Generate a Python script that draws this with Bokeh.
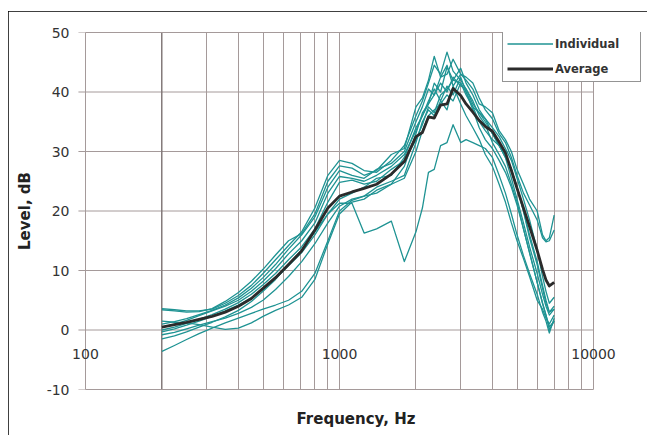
from bokeh.plotting import figure
from bokeh.models import (Range1d, FixedTicker, Span, Legend, LegendItem,
                          LogAxis, ColumnDataSource)
from bokeh.embed import file_html
from bokeh.resources import INLINE

# ---------------- data ----------------
freq_hz = [200, 224, 250, 280, 315, 355, 400, 450, 500, 560, 630, 710, 800, 900,
           1000, 1120, 1250, 1400, 1600, 1800, 2000, 2120, 2240, 2360, 2500, 2650,
           2800, 3000, 3150, 3350, 3550, 3750, 4000, 4250, 4500, 4750, 5000, 5300,
           5600, 6000, 6300, 6500, 6700, 7000]

ind_01 = [3.6, 3.4, 3.2, 3.2, 3.5, 4.5, 5.8, 7.5, 9.5, 11.8, 14.2, 16.5, 20.5, 26.0,
          28.5, 28.0, 26.8, 26.5, 28.5, 31.0, 36.0, 38.5, 41.5, 44.5, 43.0, 46.7,
          43.5, 42.0, 40.5, 38.0, 36.5, 35.5, 33.0, 31.0, 29.0, 25.5, 22.0, 18.0,
          14.0, 9.5, 6.0, 4.0, 2.5, 3.5]
ind_02 = [3.4, 3.2, 3.0, 3.1, 3.6, 4.8, 6.3, 8.2, 10.2, 12.6, 15.0, 16.2, 19.5, 25.0,
          27.6, 27.2, 26.0, 26.8, 29.5, 30.5, 37.5, 39.0, 42.0, 46.0, 42.5, 44.5,
          41.0, 43.0, 42.0, 40.5, 38.0, 37.5, 36.5, 33.5, 32.0, 30.0, 27.0, 24.5,
          22.0, 20.0, 16.0, 15.0, 15.5, 19.3]
ind_03 = [1.0, 1.4, 1.9, 2.6, 3.3, 4.2, 5.4, 7.0, 8.8, 11.0, 13.6, 16.0, 19.0, 24.0,
          26.8, 26.0, 25.5, 27.0, 28.0, 30.0, 35.0, 37.5, 40.5, 39.5, 42.5, 43.0,
          45.5, 43.0, 42.5, 41.5, 39.0, 37.0, 35.5, 33.0, 31.5, 29.0, 26.0, 23.0,
          21.0, 18.5, 15.5, 14.8, 15.0, 16.8]
ind_04 = [0.5, 1.0, 1.6, 2.4, 3.2, 4.0, 5.0, 6.5, 8.2, 10.3, 12.8, 15.0, 18.0, 23.0,
          25.8, 25.5, 25.0, 26.0, 27.5, 29.5, 33.5, 36.0, 38.0, 41.5, 40.0, 44.2,
          42.0, 44.0, 41.5, 39.5, 37.0, 35.5, 34.0, 32.5, 30.5, 28.5, 25.5, 22.0,
          18.5, 13.5, 9.0, 6.5, 4.5, 5.5]
ind_05 = [0.0, 0.5, 1.1, 1.8, 2.6, 3.5, 4.6, 6.0, 7.6, 9.5, 11.8, 14.0, 17.0, 21.5,
          24.8, 25.2, 24.5, 25.0, 27.0, 28.5, 32.0, 34.5, 37.5, 36.5, 39.5, 40.5,
          42.0, 41.5, 40.0, 37.5, 35.0, 33.5, 32.0, 31.0, 29.5, 27.0, 24.0, 20.0,
          16.0, 11.5, 7.5, 5.0, 3.0, 3.5]
ind_06 = [-0.3, 0.2, 0.8, 1.5, 2.3, 3.2, 4.2, 5.4, 6.8, 8.6, 10.8, 13.0, 16.0, 19.5,
          22.0, 23.0, 24.0, 25.5, 26.0, 29.0, 34.0, 36.0, 38.5, 40.5, 38.5, 41.0,
          39.5, 42.5, 40.0, 37.0, 34.0, 32.0, 30.5, 28.5, 26.5, 24.0, 21.0, 17.0,
          13.0, 8.0, 4.5, 2.5, 0.5, 1.5]
ind_07 = [-0.8, -0.4, 0.2, 0.8, 1.4, 2.0, 2.8, 3.8, 5.0, 6.8, 9.0, 11.5, 14.5, 18.0,
          20.8, 22.0, 22.5, 24.0, 25.0, 26.0, 31.5, 35.0, 37.0, 36.0, 38.5, 37.0,
          41.0, 38.0, 36.0, 34.0, 32.0, 29.5, 27.5, 24.5, 21.5, 18.0, 15.0, 12.0,
          9.0, 5.0, 3.5, 2.0, 1.0, 2.5]
ind_08 = [-1.5, -1.0, -0.3, 0.5, 1.3, 2.2, 3.3, 4.8, 6.5, 8.5, 11.0, 13.5, 16.5, 19.5,
          21.3, 21.3, 16.3, 17.0, 18.3, 11.5, 16.5, 20.5, 26.5, 27.0, 31.0, 31.5,
          34.5, 31.5, 32.0, 31.5, 31.0, 30.5, 29.0, 26.0, 23.0, 19.5, 16.0, 12.5,
          9.5, 6.0, 3.0, 1.5, -0.5, 2.0]
ind_09 = [1.5, 1.3, 1.2, 0.9, 0.5, 0.1, 0.3, 1.2, 2.3, 3.3, 4.2, 5.5, 8.5, 14.5,
          19.5, 21.5, 22.0, 23.5, 24.5, 25.5, 30.0, 33.5, 36.0, 37.0, 38.0, 39.5,
          38.5, 41.5, 39.5, 37.5, 36.5, 35.0, 33.0, 31.0, 29.0, 27.0, 24.0, 20.0,
          15.5, 11.0, 7.0, 4.5, 3.0, 4.0]
ind_10 = [-3.6, -2.6, -1.6, -0.6, 0.3, 1.2, 2.0, 2.8, 3.5, 4.2, 5.0, 6.5, 9.5, 15.0,
          20.0, 21.8, 22.5, 23.0, 24.5, 27.5, 33.0, 36.5, 38.0, 39.5, 41.5, 40.0,
          42.5, 41.0, 40.5, 38.5, 36.0, 34.5, 31.5, 29.5, 27.5, 24.5, 21.5, 17.0,
          13.0, 8.0, 4.5, 2.5, 0.0, 1.5]

average = [0.5, 0.9, 1.3, 1.8, 2.3, 3.0, 4.0, 5.3, 7.0, 8.8, 11.0, 13.3, 16.8, 20.5,
           22.5, 23.2, 23.8, 24.5, 26.2, 28.3, 32.5, 33.2, 35.8, 35.6, 37.8, 38.0,
           40.6, 39.4, 38.0, 36.6, 35.2, 34.2, 33.4, 31.6, 29.8, 26.8, 23.8, 20.5,
           17.4, 13.4, 10.2, 8.4, 7.4, 8.0]

individuals = [ind_01, ind_02, ind_03, ind_04, ind_05,
               ind_06, ind_07, ind_08, ind_09, ind_10]

series_labels = ["Individual", "Average"]

x_grid_ticks = [100, 200, 300, 400, 500, 600, 700, 800, 900,
                1000, 2000, 3000, 4000, 5000, 6000, 7000, 8000, 9000, 10000]
x_tick_values = [100, 1000, 10000]
x_tick_labels = ["100", "1000", "10000"]
y_ticks = [-10, 0, 10, 20, 30, 40, 50]
y_tick_labels = ["-10", "0", "10", "20", "30", "40", "50"]
x_axis_bounds = (100, 10000)       # extent of the axis box
x_view = (87.3, 15450)             # visible range: room for labels / legend
y_view = (-10, 50)
tick_stub_hz = 93.8                # start of the short tick stubs left of the box
y_axis_cross_hz = 200              # vertical axis crosses here
x_axis_cross_db = 0                # horizontal axis (tick labels) crosses here

# ---------------- styling ----------------
FONT = "DejaVu Sans"
GRID = "#a59a9a"
TEAL = "#1f9393"
AVG = "#2b2b2b"
TXT = "#333333"

p = figure(width=639, height=426, x_axis_type="log",
           x_range=Range1d(*x_view), y_range=Range1d(*y_view),
           output_backend="svg", toolbar_location=None,
           min_border_left=62, min_border_right=6,
           min_border_top=21, min_border_bottom=48)
p.styles = {"margin-left": "8px", "margin-top": "11px",
            "outline": "2px solid black", "outline-offset": "-2px",
            "clip-path": "inset(0px 0px 2px 0px)"}

p.background_fill_color = "white"
p.border_fill_color = "white"
p.outline_line_color = None

# ---- vertical grid lines ----
p.xgrid.ticker = FixedTicker(ticks=x_grid_ticks)
p.xgrid.grid_line_color = GRID
p.xgrid.grid_line_width = 1
p.ygrid.visible = False

# ---- horizontal grid lines (with tick stubs), limited to the axis box ----
hgrid_src = ColumnDataSource(dict(x0=[tick_stub_hz] * len(y_ticks),
                                  x1=[x_axis_bounds[1]] * len(y_ticks),
                                  y=y_ticks))
p.segment(x0="x0", x1="x1", y0="y", y1="y", source=hgrid_src,
          line_color=GRID, line_width=1, level="underlay")

# ---- bottom axis: rule + title ----
xa = p.xaxis[0]
xa.ticker = FixedTicker(ticks=[])
xa.bounds = x_axis_bounds
xa.major_tick_out = 0
xa.major_tick_in = 0
xa.minor_tick_out = 0
xa.minor_tick_in = 0
xa.axis_line_color = GRID
xa.axis_label = "Frequency, Hz"
xa.axis_label_text_font = FONT
xa.axis_label_text_font_size = "15px"
xa.axis_label_text_font_style = "bold"
xa.axis_label_text_color = "#222222"
xa.axis_label_standoff = 20

# ---- top rule of the axis box ----
top_axis = LogAxis(ticker=FixedTicker(ticks=[]), bounds=x_axis_bounds,
                   axis_line_color=GRID, major_tick_out=0, major_tick_in=0,
                   minor_tick_out=0, minor_tick_in=0)
p.add_layout(top_axis, "above")

# ---- x tick labels next to the horizontal axis at 0 dB ----
tick_axis = LogAxis(ticker=FixedTicker(ticks=x_tick_values),
                    fixed_location=x_axis_cross_db,
                    major_label_overrides={v: t for v, t in zip(x_tick_values, x_tick_labels)},
                    axis_line_color=None, major_tick_out=0, major_tick_in=0,
                    minor_tick_out=0, minor_tick_in=0,
                    major_label_standoff=19,
                    major_label_text_font=FONT,
                    major_label_text_font_size="14px",
                    major_label_text_color=TXT)
p.add_layout(tick_axis, "below")

# ---- y axis (labels only; stubs come from the grid segments) ----
ya = p.yaxis[0]
ya.ticker = FixedTicker(ticks=y_ticks)
ya.major_label_overrides = {v: t for v, t in zip(y_ticks, y_tick_labels)}
ya.major_tick_out = 0
ya.major_tick_in = 0
ya.minor_tick_out = 0
ya.minor_tick_in = 0
ya.axis_line_color = None
ya.major_label_standoff = 1
ya.major_label_text_font = FONT
ya.major_label_text_font_size = "14px"
ya.major_label_text_color = TXT
ya.axis_label = "Level, dB"
ya.axis_label_text_font = FONT
ya.axis_label_text_font_size = "15px"
ya.axis_label_text_font_style = "bold"
ya.axis_label_text_color = "#222222"
ya.axis_label_standoff = 10

# left rule of the axis box is the 100 Hz grid line; vertical axis crosses at 200 Hz
p.add_layout(Span(location=y_axis_cross_hz, dimension="height",
                  line_color="#6e6464", line_width=1, level="underlay"))

# ---- curves ----
ind_renderers = [p.line(freq_hz, c, line_color=TEAL, line_width=1.3,
                        line_join="round") for c in individuals]
avg_renderer = p.line(freq_hz, average, line_color=AVG, line_width=2.8,
                      line_join="round")

legend = Legend(items=[LegendItem(label=series_labels[0], renderers=[ind_renderers[0]]),
                       LegendItem(label=series_labels[1], renderers=[avg_renderer])],
                location=(432, 307))
legend.border_line_color = "#2a2a2a"
legend.border_line_width = 1.5
legend.background_fill_color = "white"
legend.background_fill_alpha = 1.0
legend.padding = 4
legend.spacing = 8
legend.margin = 0
legend.label_height = 17
legend.glyph_height = 17
legend.glyph_width = 46
legend.label_standoff = 2
legend.label_width = 81
legend.label_text_font = FONT
legend.label_text_font_size = "11.5px"
legend.label_text_font_style = "bold"
legend.label_text_color = TXT
p.add_layout(legend)

open("out.html", "w").write(file_html(p, INLINE))
